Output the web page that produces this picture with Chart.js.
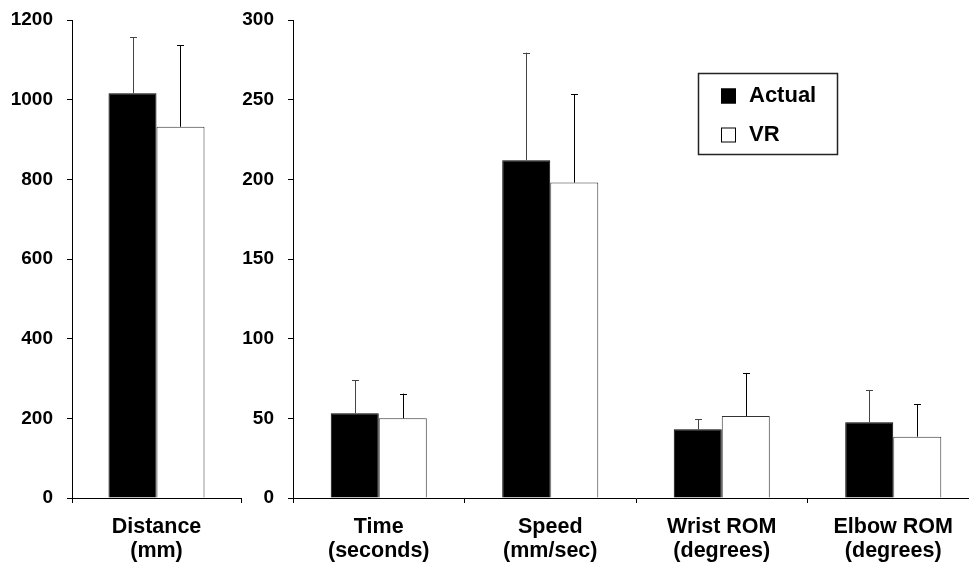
<!DOCTYPE html>
<html>
<head>
<meta charset="utf-8">
<script src="https://cdn.jsdelivr.net/npm/chart.js@4/dist/chart.umd.min.js"></script>
<style>
  html, body { margin: 0; padding: 0; background: #fff; overflow: hidden; width: 969px; height: 568px; }
  #wrap { position: relative; width: 969px; height: 568px; overflow: hidden; }
  canvas { position: absolute; top: 0; }
  #leftChart { left: 0; }
  #rightChart { left: 225px; }
</style>
</head>
<body>
<div id="wrap">
  <canvas id="leftChart" width="250" height="568"></canvas>
  <canvas id="rightChart" width="765" height="568"></canvas>
</div>
<script>
// ---- Data ----
const seriesNames = ['Actual', 'VR'];

const leftCategories = [['Distance', '(mm)']];
const distanceActual = [1016];
const distanceActualSD = [141];
const distanceVR = [932];
const distanceVRSD = [205];
const leftTickMax = 1200;
const leftTickStep = 200;

const rightCategories = [['Time', '(seconds)'], ['Speed', '(mm/sec)'], ['Wrist ROM', '(degrees)'], ['Elbow ROM', '(degrees)']];
const actualMeans = [53.2, 212, 43.1, 47.5];
const actualSD = [20.7, 67.5, 6.3, 20.3];
const vrMeans = [50.0, 198, 51.5, 38.5];
const vrSD = [15.5, 55.4, 27.0, 20.3];
const rightTickMax = 300;
const rightTickStep = 50;

// ---- Styling ----
const FONT = '"Liberation Sans", Arial, sans-serif';
const RIGHT_OFFSET = 225;

const errorBarPlugin = {
  id: 'errorBars',
  afterDatasetsDraw(chart) {
    const ctx = chart.ctx;
    const yScale = chart.scales.y;
    chart.data.datasets.forEach((ds, di) => {
      const meta = chart.getDatasetMeta(di);
      meta.data.forEach((bar, i) => {
        const sd = ds.errors[i];
        const top = yScale.getPixelForValue(ds.data[i] + sd);
        const x = Math.round(bar.x) + 0.5;
        ctx.save();
        ctx.strokeStyle = ds.errorColor;
        ctx.lineWidth = 1;
        ctx.beginPath();
        ctx.moveTo(x, bar.y);
        ctx.lineTo(x, top);
        ctx.moveTo(x - 3.5, Math.round(top) + 0.5);
        ctx.lineTo(x + 3.5, Math.round(top) + 0.5);
        ctx.stroke();
        ctx.restore();
      });
    });
  }
};

const legendBoxPlugin = {
  id: 'legendBox',
  afterDraw(chart, args, opts) {
    if (!opts.show) return;
    const ctx = chart.ctx;
    const ox = -RIGHT_OFFSET;
    ctx.save();
    ctx.strokeStyle = '#222';
    ctx.lineWidth = 1.5;
    ctx.strokeRect(698.5 + ox, 73.5, 139, 81);
    chart.data.datasets.forEach((ds, i) => {
      const cy = i === 0 ? 96 : 135;
      ctx.fillStyle = ds.backgroundColor;
      ctx.fillRect(721 + ox, cy - 7.5, 15, 15);
      ctx.strokeStyle = '#000';
      ctx.lineWidth = 1;
      ctx.strokeRect(721.5 + ox, cy - 7, 14, 14);
      ctx.fillStyle = '#000';
      ctx.font = 'bold 22px ' + FONT;
      ctx.textBaseline = 'middle';
      ctx.textAlign = 'left';
      ctx.fillText(ds.label, 749 + ox, cy);
    });
    ctx.restore();
  }
};

function makeOptions(yMax, yStep, yAxisWidth, padRight, barFrac, showLegend) {
  return {
    responsive: false,
    animation: false,
    layout: { padding: { top: 20, right: padRight, left: 0, bottom: 0 } },
    plugins: {
      legend: { display: false },
      tooltip: { enabled: false },
      legendBox: { show: showLegend }
    },
    datasets: { bar: { categoryPercentage: barFrac, barPercentage: 1.0 } },
    scales: {
      x: {
        grid: { display: true, drawOnChartArea: false, drawTicks: true, tickLength: 5, color: '#000', offset: true },
        border: { display: true, color: '#000', width: 1 },
        ticks: { color: '#000', font: { family: FONT, size: 21.5, weight: 'bold', lineHeight: 1.12 }, padding: 12, maxRotation: 0, autoSkip: false },
        afterFit(scale) { scale.height = 70; }
      },
      y: {
        min: 0, max: yMax,
        grid: { display: true, drawOnChartArea: false, drawTicks: true, tickLength: 5, color: '#000' },
        border: { display: true, color: '#000', width: 1 },
        ticks: { stepSize: yStep, color: '#000', font: { family: FONT, size: 19, weight: 'bold' }, padding: 14,
                 callback: (v) => String(v) },
        afterFit(scale) { scale.width = yAxisWidth; scale.paddingTop = 0; scale.paddingBottom = 0; }
      }
    }
  };
}

function makeDatasets(aVals, aErr, vVals, vErr) {
  return [
    { label: seriesNames[0], data: aVals, errors: aErr, backgroundColor: '#000', borderColor: '#000', borderWidth: 1, errorColor: '#444' },
    { label: seriesNames[1], data: vVals, errors: vErr, backgroundColor: '#fff', borderColor: '#333', borderWidth: 1, errorColor: '#000' }
  ];
}

new Chart(document.getElementById('leftChart'), {
  type: 'bar',
  data: { labels: leftCategories, datasets: makeDatasets(distanceActual, distanceActualSD, distanceVR, distanceVRSD) },
  options: makeOptions(leftTickMax, leftTickStep, 72, 9, 0.568, false),
  plugins: [errorBarPlugin, legendBoxPlugin]
});

new Chart(document.getElementById('rightChart'), {
  type: 'bar',
  data: { labels: rightCategories, datasets: makeDatasets(actualMeans, actualSD, vrMeans, vrSD) },
  options: makeOptions(rightTickMax, rightTickStep, 293 - RIGHT_OFFSET, 11, 0.56, true),
  plugins: [errorBarPlugin, legendBoxPlugin]
});
</script>
</body>
</html>
